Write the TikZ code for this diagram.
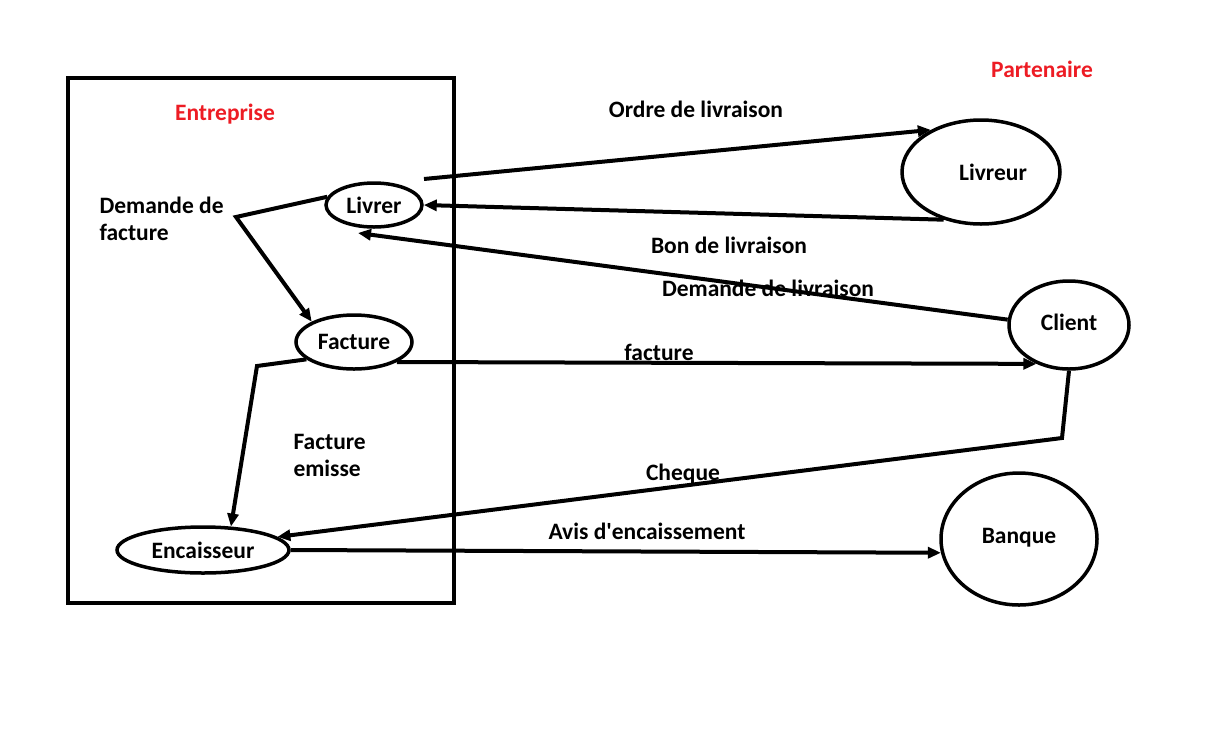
\documentclass[tikz,border=0pt]{standalone}
\usepackage{fontspec}
\setmainfont{Carlito}[Ligatures=TeXOff]
\usetikzlibrary{shapes.geometric,arrows.meta}
\definecolor{paintred}{RGB}{237,28,36}

\begin{document}
\begin{tikzpicture}[x=1pt,y=-1pt,
        font=\fontsize{23.5}{27}\selectfont\bfseries,
        acteur/.style={ellipse,draw,line width=3.5pt,inner sep=0pt},
        titre/.style={text=paintred},
        flux/.style={line width=4pt,-{Triangle[length=13pt,width=11pt]}},
        lien/.style={align=left,anchor=west}]
    \useasboundingbox (0,0) rectangle (1229,729);
    \draw[line width=4pt] (68,78) rectangle (454,603);
    \node[titre] (entreprise) at (225,114) {Entreprise};
    \node[titre] (partenaire) at (1042,69) {Partenaire};

    % acteurs internes
    \node[acteur,minimum width=96pt,minimum height=44pt] (livrer) at (374,205) {Livrer};
    \node[acteur,minimum width=116pt,minimum height=54pt] (facture) at (354,342) {Facture};
    \node[acteur,minimum width=172pt,minimum height=46pt] (encaisseur) at (203,550) {Encaisseur};
    % partenaires
    \node[acteur,minimum width=158pt,minimum height=104pt] (livreur) at (981,172) {\hspace{24pt}Livreur};
    \node[acteur,minimum width=120pt,minimum height=88pt] (client) at (1069,325) {\raisebox{6pt}{Client}\hspace{12pt}};
    \node[acteur,minimum width=156pt,minimum height=132pt] (banque) at (1019,539) {\raisebox{7pt}{Banque}\hspace{12pt}};

    \coordinate (livrerdepart) at (424,179);
    \coordinate (livrerarrivee) at (358,233);
    \coordinate (coudefacture) at (236,217);
    \coordinate (coudeemisse) at (257,366);
    \coordinate (coudecheque) at (1062,438);

    \draw[flux] (livrerdepart) -- (livreur.140);
    \draw[flux] (livreur.-128) -- (livrer.east);
    \draw[flux] (client.175) -- (livrerarrivee);
    \draw[flux] (facture.-25) -- (client.-130);
    \draw[flux] (client.south) -- (coudecheque) -- (encaisseur.10);
    \draw[flux] (encaisseur.east) -- (banque.190);
    \draw[flux] (livrer.170) -- (coudefacture) -- (facture.north west);
    \draw[flux] (facture.200) -- (coudeemisse) -- (encaisseur.40);

    \node (ordre) at (696,109) {Ordre de livraison};
    \node (bon) at (729,245) {Bon de livraison};
    \node (demliv) at (768,288) {Demande de livraison};
    \node (fact) at (659,352) {facture};
    \node (cheque) at (683,474) {Cheque};
    \node (avis) at (647,531) {Avis d'encaissement};
    \node[lien] (demfact) at (96,219) {Demande de\\facture};
    \node[lien] (emisse) at (290,455) {Facture\\emisse};
\end{tikzpicture}
\end{document}
